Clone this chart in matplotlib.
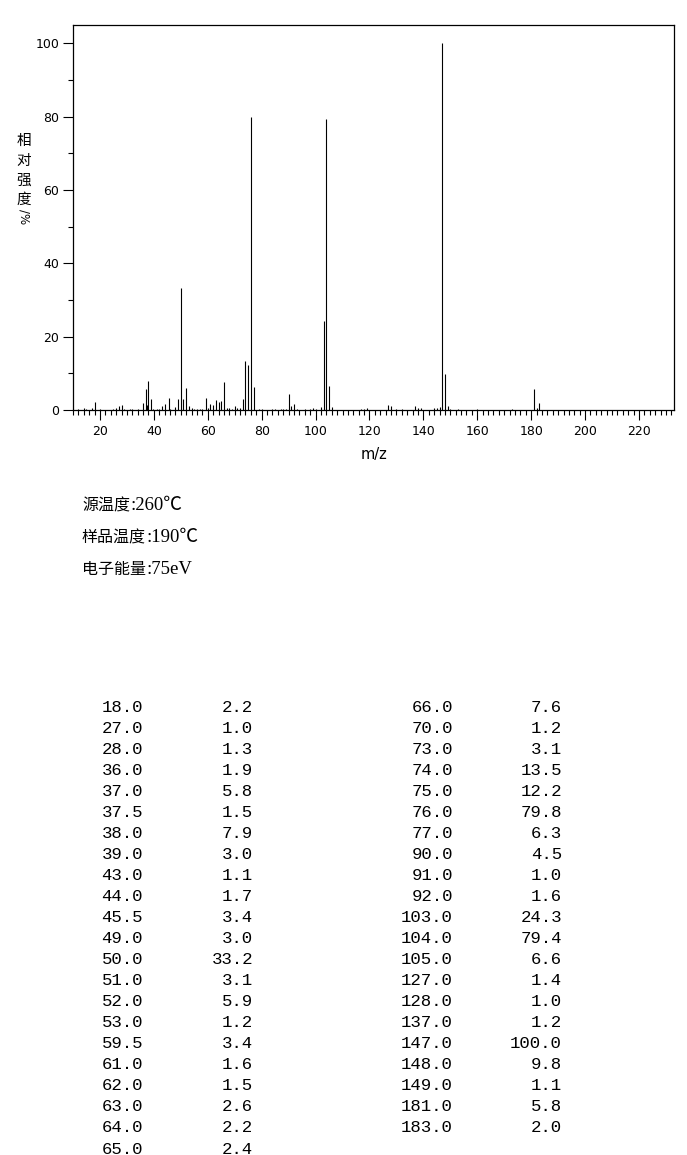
import matplotlib
matplotlib.use('Agg')
import matplotlib.pyplot as plt
from matplotlib.ticker import MultipleLocator

# ---[DATA]---
# peaks listed in the table (m/z, relative intensity %)
table_mz = [18.0, 27.0, 28.0, 36.0, 37.0, 37.5, 38.0, 39.0, 43.0, 44.0, 45.5,
            49.0, 50.0, 51.0, 52.0, 53.0, 59.5, 61.0, 62.0, 63.0, 64.0, 65.0,
            66.0, 70.0, 73.0, 74.0, 75.0, 76.0, 77.0, 90.0, 91.0, 92.0, 103.0,
            104.0, 105.0, 127.0, 128.0, 137.0, 147.0, 148.0, 149.0, 181.0, 183.0]
table_int = [2.2, 1.0, 1.3, 1.9, 5.8, 1.5, 7.9, 3.0, 1.1, 1.7, 3.4,
             3.0, 33.2, 3.1, 5.9, 1.2, 3.4, 1.6, 1.5, 2.6, 2.2, 2.4,
             7.6, 1.2, 3.1, 13.5, 12.2, 79.8, 6.3, 4.5, 1.0, 1.6, 24.3,
             79.4, 6.6, 1.4, 1.0, 1.2, 100.0, 9.8, 1.1, 5.8, 2.0]

# small peaks (<1 %)
minor_mz = [12, 14, 15, 17, 20, 25, 26, 29, 31, 32, 34, 39.5, 41, 42, 46, 48,
            54, 55, 56, 57, 58, 60, 67, 68, 69, 71, 72, 79, 80, 84, 85, 87, 88,
            89, 93, 96, 98, 99, 100, 102, 106, 117, 118, 119, 130, 132, 138,
            139, 144, 145, 146, 150, 153, 160, 173, 182]
minor_int = [0.4, 0.5, 0.4, 0.5, 0.3, 0.4, 0.6, 0.3, 0.2, 0.3, 0.3, 0.4, 0.3,
             0.4, 0.4, 0.7, 0.5, 0.3, 0.3, 0.3, 0.4, 0.5, 0.6, 0.5, 0.3, 0.5,
             0.6, 0.3, 0.3, 0.3, 0.3, 0.4, 0.4, 0.4, 0.3, 0.3, 0.4, 0.5, 0.4,
             0.9, 0.7, 0.3, 0.3, 0.5, 0.3, 0.3, 0.5, 0.6, 0.6, 0.5, 0.9, 0.4,
             0.3, 0.3, 0.3, 0.5]

ylabel_chars = ['相', '对', '强', '度']
info_keys = ['源温度', '样品温度', '电子能量']
info_vals = [':260℃', ':190℃', ':75eV']
# ---------------

W, H = 687, 1155
fig = plt.figure(figsize=(W / 100, H / 100), dpi=100)
ax = fig.add_axes([73 / W, 1 - 410 / H, (674 - 73) / W, (410 - 25) / H])

all_mz = table_mz + minor_mz
all_int = table_int + minor_int
ax.vlines(all_mz, 0, all_int, colors='black', linewidth=0.8)

ax.set_xlim(10, 233)
ax.set_ylim(0, 105)
ax.xaxis.set_major_locator(MultipleLocator(20))
ax.xaxis.set_minor_locator(MultipleLocator(2))
ax.yaxis.set_major_locator(MultipleLocator(20))
ax.yaxis.set_minor_locator(MultipleLocator(10))
ax.tick_params(which='major', length=7, width=0.8, labelsize=9, direction='out')
ax.tick_params(which='minor', length=3.5, width=0.8, direction='out')
ax.tick_params(axis='x', pad=4)
ax.tick_params(axis='y', pad=3)
for s in ax.spines.values():
    s.set_linewidth(0.9)

ax.set_xlabel('m/z', fontsize=10.5, labelpad=6)

# y label: stacked characters, "/%" turned sideways
for i, ch in enumerate(ylabel_chars):
    fig.text(24 / W, 1 - (141 + i * 19.7) / H, ch, fontsize=10.5, ha='center', va='center',
             family=['Noto Sans CJK SC'])
fig.text(24 / W, 1 - 217 / H, '/%', fontsize=8.5, ha='center', va='center',
         rotation=270, family=['DejaVu Sans'])

# instrument info: CJK key, then serif value placed right after it
renderer = fig.canvas.get_renderer()
for i, (k, v) in enumerate(zip(info_keys, info_vals)):
    y = 1 - (506 + i * 31.5) / H
    t = fig.text(82 / W, y, k, fontsize=11.5, ha='left', va='center',
                 family=['Noto Sans CJK SC'])
    x_end = t.get_window_extent(renderer).x1
    fig.text(x_end / W, y, v, fontsize=13.5, ha='left', va='center',
             family=['Liberation Serif', 'Noto Sans CJK SC', 'DejaVu Sans'])

# peak table, two blocks of two columns
n_left = 22
row0, row_step = 707, 21.05
mono = ['Liberation Mono', 'DejaVu Sans Mono']
for i, (m, v) in enumerate(zip(table_mz, table_int)):
    if i < n_left:
        r, x1, x2 = i, 143, 253
    else:
        r, x1, x2 = i - n_left, 453, 562
    y = 1 - (row0 + r * row_step) / H
    fig.text(x1 / W, y, '{:.1f}'.format(m), fontsize=12.5, ha='right', va='center', family=mono)
    fig.text(x2 / W, y, '{:.1f}'.format(v), fontsize=12.5, ha='right', va='center', family=mono)

fig.savefig('out.png', dpi=100)
